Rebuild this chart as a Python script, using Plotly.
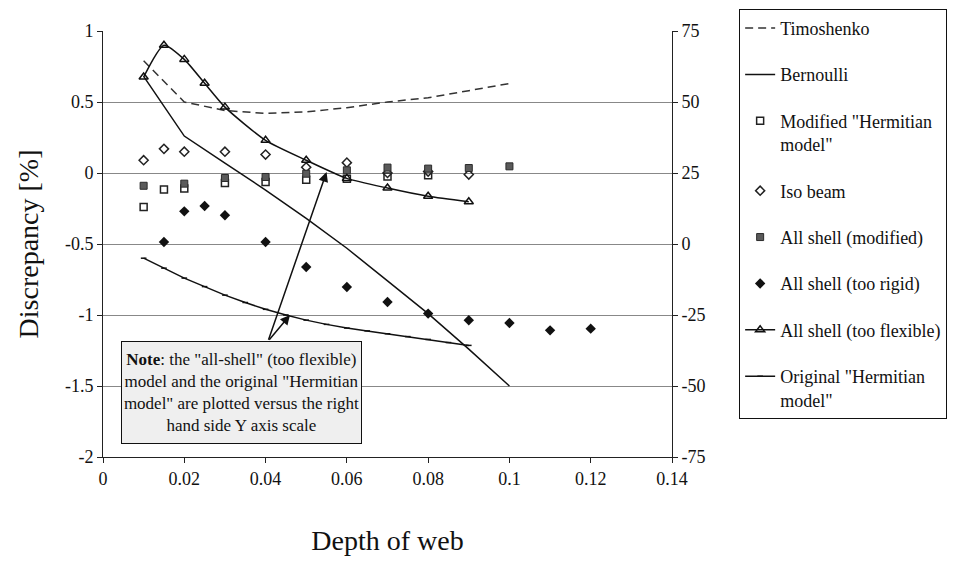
import plotly.graph_objects as go

# ---- data ----
timo_x = [0.01, 0.02, 0.03, 0.04, 0.05, 0.06, 0.07, 0.08, 0.09, 0.1]
timo_y = [0.79, 0.50, 0.44, 0.42, 0.43, 0.46, 0.50, 0.53, 0.58, 0.63]

bern_x = [0.01, 0.02, 0.03, 0.04, 0.05, 0.06, 0.07, 0.08, 0.09, 0.1]
bern_y = [0.68, 0.26, 0.07, -0.12, -0.32, -0.53, -0.76, -0.99, -1.24, -1.5]

modh_x = [0.01, 0.015, 0.02, 0.03, 0.04, 0.05, 0.06, 0.07, 0.08]
modh_y = [-0.24, -0.117, -0.11, -0.07, -0.063, -0.047, -0.04, -0.025, -0.016]

iso_x = [0.01, 0.015, 0.02, 0.03, 0.04, 0.05, 0.06, 0.07, 0.08, 0.09]
iso_y = [0.09, 0.17, 0.15, 0.15, 0.13, 0.04, 0.073, 0.0, 0.01, -0.011]

shm_x = [0.01, 0.02, 0.03, 0.04, 0.05, 0.06, 0.07, 0.08, 0.09, 0.1]
shm_y = [-0.09, -0.075, -0.035, -0.028, -0.005, 0.019, 0.038, 0.031, 0.035, 0.047]

shr_x = [0.015, 0.02, 0.025, 0.03, 0.04, 0.05, 0.06, 0.07, 0.08, 0.09, 0.1, 0.11, 0.12]
shr_y = [-0.486, -0.27, -0.232, -0.298, -0.486, -0.662, -0.803, -0.908, -0.99, -1.037, -1.056, -1.108, -1.096]

shf_x = [0.01, 0.015, 0.02, 0.025, 0.03, 0.04, 0.05, 0.06, 0.07, 0.08, 0.09]
shf_y = [58.8, 70.0, 65.0, 56.6, 48.2, 36.5, 29.5, 23.1, 19.7, 16.8, 14.9]

orh_x = [0.01, 0.015, 0.02, 0.025, 0.03, 0.035, 0.04, 0.045, 0.05, 0.055, 0.06, 0.065, 0.07, 0.075, 0.08, 0.085, 0.09]
orh_y = [-5.0, -8.5, -12.0, -15.0, -18.0, -20.6, -23.0, -25.0, -26.8, -28.3, -29.6, -30.6, -31.6, -32.6, -33.6, -34.7, -35.7]

x_ticks = [0, 0.02, 0.04, 0.06, 0.08, 0.1, 0.12, 0.14]
x_labels = ["0", "0.02", "0.04", "0.06", "0.08", "0.1", "0.12", "0.14"]
y_ticks = [1, 0.5, 0, -0.5, -1, -1.5, -2]
y_labels = ["1", "0.5", "0", "-0.5", "-1", "-1.5", "-2"]
y2_ticks = [75, 50, 25, 0, -25, -50, -75]
y2_labels = ["75", "50", "25", "0", "-25", "-50", "-75"]

FONT = "Liberation Serif, Times New Roman, serif"
TF = dict(family=FONT, size=18, color="#111")
LF = dict(family=FONT, size=18, color="#111")
TITLEF = dict(family=FONT, size=28, color="#111")

fig = go.Figure()

fig.add_trace(go.Scatter(x=timo_x, y=timo_y, mode="lines", name="Timoshenko",
                         line=dict(color="#333", width=1.5, dash="8px,5px"), legendgroup="a"))
fig.add_trace(go.Scatter(x=bern_x, y=bern_y, mode="lines", name="Bernoulli",
                         line=dict(color="#111", width=1.5), legendgroup="b"))
fig.add_trace(go.Scatter(x=modh_x, y=modh_y, mode="markers", name='Modified "Hermitian<br>model"',
                         marker=dict(symbol="square-open", size=7, color="#222", line=dict(width=1.5)),
                         legendgroup="c"))
fig.add_trace(go.Scatter(x=iso_x, y=iso_y, mode="markers", name="Iso beam",
                         marker=dict(symbol="diamond-open", size=7, color="#222", line=dict(width=1.5)),
                         legendgroup="d"))
fig.add_trace(go.Scatter(x=shm_x, y=shm_y, mode="markers", name="All shell (modified)",
                         marker=dict(symbol="square", size=7, color="#5a5a5a", line=dict(width=1, color="#2a2a2a")),
                         legendgroup="e"))
fig.add_trace(go.Scatter(x=shr_x, y=shr_y, mode="markers", name="All shell (too rigid)",
                         marker=dict(symbol="diamond", size=8, color="#111"), legendgroup="f"))
fig.add_trace(go.Scatter(x=shf_x, y=shf_y, mode="lines+markers", name="All shell (too flexible)",
                         yaxis="y2", line=dict(color="#111", width=1.5, shape="spline", smoothing=0.6),
                         marker=dict(symbol="triangle-up-open", size=8, color="#111", line=dict(width=1.5)),
                         legendgroup="g"))
fig.add_trace(go.Scatter(x=orh_x, y=orh_y, mode="lines+markers", name='Original "Hermitian<br>model"',
                         yaxis="y2", line=dict(color="#111", width=1.5),
                         marker=dict(symbol="line-ew", size=4, color="#111", line=dict(width=1.5, color="#111")),
                         legendgroup="h"))

fig.add_annotation(x=0.0341, y=-1.544, xref="x", yref="y", showarrow=False,
                   text='<b>Note</b>: the "all-shell" (too flexible)<br>model and the original "Hermitian<br>'
                        'model" are plotted versus the right<br>hand side Y axis scale',
                   font=dict(family=FONT, size=17, color="#111"), align="center",
                   bgcolor="#efefef", bordercolor="#111", borderwidth=1, width=237, height=99)

for hx, hy in [(0.055, 0.007), (0.046, -1.0)]:
    fig.add_annotation(x=hx, y=hy, xref="x", yref="y", ax=0.0406, ay=-1.185, axref="x", ayref="y",
                       text="", showarrow=True, arrowhead=2, arrowsize=1.3, arrowwidth=1.5, arrowcolor="#111")

fig.update_layout(
    width=956, height=559,
    margin=dict(l=95, r=292, t=23, b=110, autoexpand=False),
    paper_bgcolor="white", plot_bgcolor="white",
    font=TF,
    showlegend=True,
    legend=dict(x=1.118, y=1.052, xanchor="left", yanchor="top", bordercolor="#111", borderwidth=1,
                font=LF, tracegroupgap=20, bgcolor="white", maxheight=550, valign="top"),
    xaxis=dict(range=[0, 0.14], tickvals=x_ticks, ticktext=x_labels, tickfont=TF, showgrid=False,
               zeroline=False, automargin=False,
               showline=True, linecolor="#222", linewidth=1, ticks="outside", ticklen=5, tickcolor="#222",
               title=dict(text="Depth of web", font=TITLEF, standoff=42)),
    yaxis=dict(range=[-2, 1], tickvals=y_ticks, ticktext=y_labels, tickfont=TF, showgrid=True,
               gridcolor="#888", gridwidth=1, zeroline=False, automargin=False,
               showline=True, linecolor="#222", linewidth=1, ticks="outside", ticklen=5, tickcolor="#222",
               title=dict(text="Discrepancy [%]", font=TITLEF, standoff=18)),
    yaxis2=dict(range=[-75, 75], tickvals=y2_ticks, ticktext=y2_labels, tickfont=TF, overlaying="y",
                side="right", showgrid=False, zeroline=False, automargin=False,
                showline=True, linecolor="#222", linewidth=1, ticks="outside", ticklen=5, tickcolor="#222"),
)

fig.write_html("out.html")
